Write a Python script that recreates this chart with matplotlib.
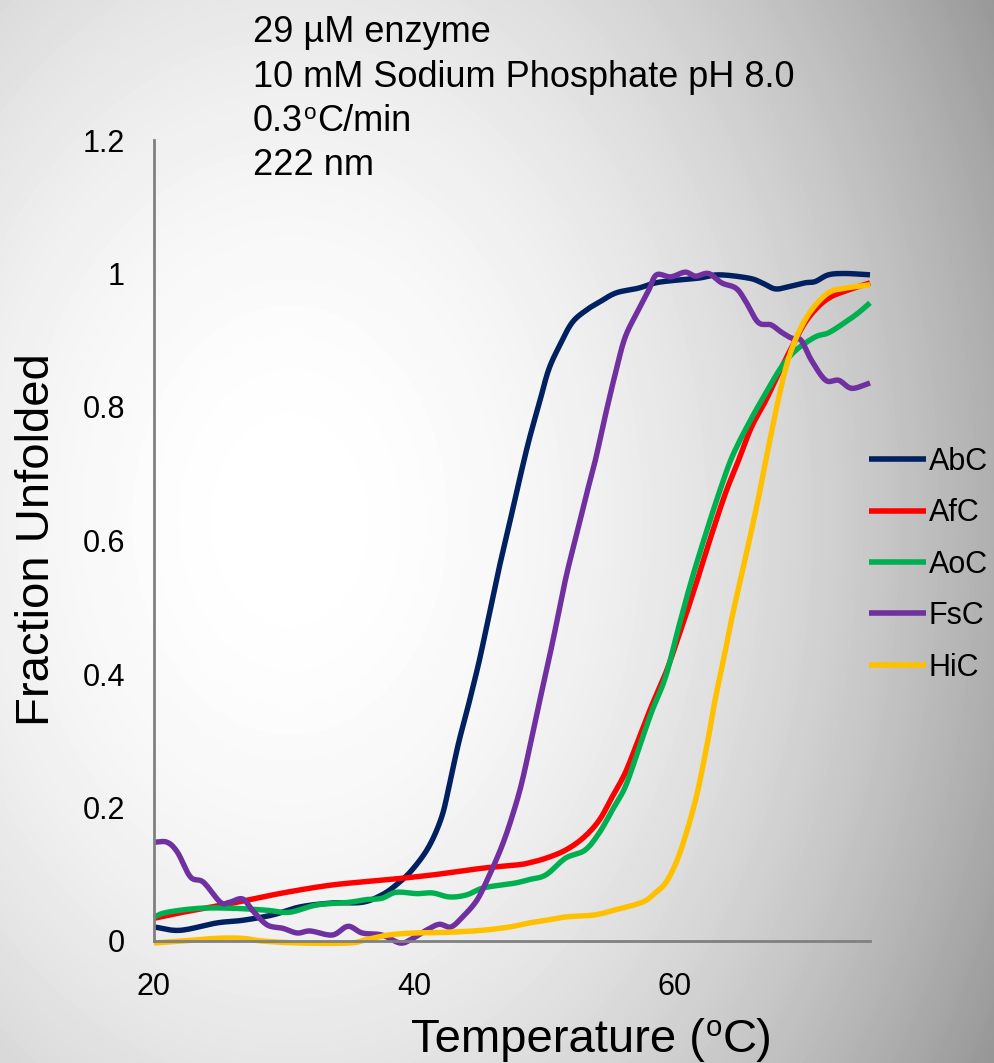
import numpy as np
import matplotlib
matplotlib.use("Agg")
import matplotlib.pyplot as plt

plt.rcParams['font.family'] = ['Liberation Sans', 'DejaVu Sans']

# ---- melting curves (temperature in degC, fraction unfolded) ----
abc_t = [20, 22, 24.8, 26.8, 29.1, 31.2, 33.7, 36.0, 37.5, 38.6, 39.8, 41.1, 42.1, 42.7,
         43.4, 44.2, 45.0, 45.7, 46.5, 47.3, 48.0, 48.8, 49.6, 50.3, 51.1, 52.1, 53.2,
         54.2, 55.5, 57.2, 58.8, 61.8, 63.4, 65.7, 66.7, 67.7, 68.7, 70.0, 70.8, 71.8,
         73.1, 75]
abc_f = [0.021, 0.016, 0.027, 0.031, 0.039, 0.051, 0.057, 0.058, 0.069, 0.084, 0.106,
         0.141, 0.186, 0.235, 0.297, 0.357, 0.421, 0.485, 0.558, 0.625, 0.685, 0.75, 0.806,
         0.855, 0.89, 0.926, 0.945, 0.957, 0.971, 0.978, 0.987, 0.993, 0.998, 0.993,
         0.986, 0.977, 0.98, 0.986, 0.988, 0.998, 1.0, 0.998]

afc_t = [20, 22.2, 26.1, 29.9, 33.7, 37.5, 41.4, 45.2, 47.9, 48.8, 50.1, 51.6, 53.0,
         54.2, 55.2, 56.2, 57.2, 58.2, 59.3, 60.1, 60.8, 61.8, 62.8, 63.9, 64.9, 65.9,
         67.0, 68.0, 69.0, 70.0, 71.0, 72.0, 73.3, 75]
afc_f = [0.034, 0.043, 0.057, 0.072, 0.084, 0.091, 0.099, 0.109, 0.114, 0.117, 0.124,
         0.136, 0.155, 0.181, 0.216, 0.252, 0.301, 0.351, 0.401, 0.445, 0.485, 0.545,
         0.607, 0.671, 0.72, 0.77, 0.81, 0.851, 0.89, 0.926, 0.95, 0.965, 0.975, 0.986]

aoc_t = [20, 21.0, 23.5, 26.1, 28.7, 30.4, 32.5, 35.0, 36.3, 37.5, 38.6, 40.2, 41.4,
         42.7, 44.0, 45.2, 46.7, 47.8, 48.8, 50.1, 51.6, 53.1, 54.2, 55.2, 56.2, 57.2,
         58.2, 59.3, 60.3, 61.3, 62.4, 63.4, 64.4, 65.7, 67.0, 68.2, 69.3, 70.8, 71.8,
         73.1, 74.1, 75]
aoc_f = [0.036, 0.043, 0.049, 0.049, 0.046, 0.043, 0.054, 0.058, 0.062, 0.064, 0.073,
         0.071, 0.072, 0.066, 0.069, 0.079, 0.084, 0.087, 0.092, 0.099, 0.124, 0.136,
         0.162, 0.196, 0.231, 0.286, 0.342, 0.396, 0.47, 0.541, 0.611, 0.671, 0.725,
         0.776, 0.821, 0.86, 0.885, 0.905, 0.911, 0.927, 0.941, 0.956]

fsc_t = [20, 21.0, 21.8, 22.8, 23.8, 25.1, 25.8, 26.8, 27.6, 28.7, 29.9, 31.0, 32.0,
         33.7, 34.9, 36.0, 37.5, 38.9, 39.8, 40.9, 41.9, 42.8, 43.7, 44.8, 45.7, 46.7,
         47.5, 48.3, 49.3, 50.6, 51.6, 52.6, 53.3, 53.9, 54.7, 55.5, 56.2, 57.2, 58.0,
         58.6, 59.7, 60.8, 61.6, 62.6, 63.6, 64.7, 65.4, 66.4, 67.4, 68.2, 69.0, 69.7,
         70.5, 71.6, 72.6, 73.6, 75]
fsc_f = [0.148, 0.148, 0.133, 0.096, 0.088, 0.058, 0.058, 0.063, 0.045, 0.024, 0.019,
         0.012, 0.015, 0.009, 0.022, 0.012, 0.009, -0.003, 0.003, 0.016, 0.025, 0.021,
         0.036, 0.061, 0.096, 0.141, 0.186, 0.241, 0.331, 0.446, 0.541, 0.62, 0.675,
         0.72, 0.79, 0.855, 0.905, 0.945, 0.975, 0.998, 0.995, 1.002, 0.996, 1.0, 0.986,
         0.978, 0.96, 0.927, 0.923, 0.912, 0.903, 0.9, 0.87, 0.84, 0.84, 0.828, 0.836]

hic_t = [20, 22.2, 24.8, 26.8, 28.3, 31.2, 35.0, 36.3, 38.0, 40.0, 42.5, 45.2, 47.3,
         48.8, 50.1, 51.6, 53.8, 55.3, 57.5, 58.5, 59.3, 60.1, 60.8, 61.6, 62.1, 62.6,
         63.1, 63.9, 64.4, 65.4, 66.4, 67.2, 68.0, 68.7, 69.5, 70.5, 71.8, 73.1, 75]
hic_f = [-0.003, 0.0, 0.004, 0.004, 0.0, -0.003, -0.003, 0.002, 0.009, 0.012, 0.013,
         0.016, 0.021, 0.027, 0.031, 0.036, 0.039, 0.046, 0.058, 0.072, 0.087, 0.117,
         0.156, 0.211, 0.256, 0.306, 0.361, 0.436, 0.485, 0.571, 0.661, 0.74, 0.815,
         0.87, 0.911, 0.945, 0.971, 0.978, 0.983]

series_names = ["AbC", "AfC", "AoC", "FsC", "HiC"]
series_colors = ["#002060", "#FF0000", "#00B050", "#7030A0", "#FFC000"]

x_ticks = [20, 40, 60]
y_ticks = [0, 0.2, 0.4, 0.6, 0.8, 1.0, 1.2]
y_tick_labels = ["0", "0.2", "0.4", "0.6", "0.8", "1", "1.2"]

# each condition line: (text before the degree "o", superscript, text after)
conditions = [("29 \u00b5M enzyme", "", ""),
              ("10 mM Sodium Phosphate pH 8.0", "", ""),
              ("0.3", "o", "C/min"),
              ("222 nm", "", "")]


def smooth_curve(x, y, steps=12):
    """Catmull-Rom path through the points (a 'smoothed line' rendering)."""
    p = np.column_stack([x, y]).astype(float)
    p = np.vstack([p[0] - (p[1] - p[0]), p, p[-1] + (p[-1] - p[-2])])
    out = []
    s = np.linspace(0, 1, steps, endpoint=False)[:, None]
    for i in range(1, len(p) - 2):
        p0, p1, p2, p3 = p[i - 1], p[i], p[i + 1], p[i + 2]
        seg = 0.5 * ((2 * p1) + (-p0 + p2) * s + (2 * p0 - 5 * p1 + 4 * p2 - p3) * s ** 2
                     + (-p0 + 3 * p1 - 3 * p2 + p3) * s ** 3)
        out.append(seg)
    out.append(p[-2][None, :])
    out = np.vstack(out)
    return out[:, 0], out[:, 1]


W, H = 995, 1063
fig = plt.figure(figsize=(W / 100, H / 100), dpi=100)
fig.patch.set_facecolor("white")

# grey vignette background
bg = fig.add_axes([0, 0, 1, 1], zorder=-5)
yy, xx = np.mgrid[0:H, 0:W]
shade = 1.0 - 6.3e-7 * (xx - 290.0) ** 2 - 3.4e-7 * (yy - 520.0) ** 2
shade = np.clip(shade, 0, 1)
bg.imshow(shade, cmap="gray", vmin=0, vmax=1, aspect="auto",
          extent=[0, 1, 0, 1], origin="upper", interpolation="bilinear")
bg.set_axis_off()

ax = fig.add_axes([154 / W, 1 - 941 / H, (870 - 154) / W, (941 - 140) / H])
ax.set_facecolor("none")

for t, f, name, col in zip([abc_t, afc_t, aoc_t, fsc_t, hic_t],
                           [abc_f, afc_f, aoc_f, fsc_f, hic_f],
                           series_names, series_colors):
    sx, sy = smooth_curve(t, f)
    ax.plot(sx, sy, color=col, lw=3.9, label=name, clip_on=False,
            solid_capstyle="butt", solid_joinstyle="round")

ax.set_xlim(20, 75)
ax.set_ylim(0, 1.2)
ax.set_xticks(x_ticks)
ax.set_xticklabels([str(v) for v in x_ticks])
ax.set_yticks(y_ticks)
ax.set_yticklabels(y_tick_labels)
ax.tick_params(axis="both", length=0, labelsize=22, colors="black")
ax.tick_params(axis="x", pad=22)
ax.tick_params(axis="y", pad=21)
for s in ["top", "right"]:
    ax.spines[s].set_visible(False)
for s in ["left", "bottom"]:
    ax.spines[s].set_color("#808080")
    ax.spines[s].set_linewidth(2)

leg = ax.legend(loc="upper left", bbox_to_anchor=(869 / W, 1 - 447 / H),
                bbox_transform=fig.transFigure, frameon=False, fontsize=22,
                handlelength=1.85, handletextpad=0.1, labelspacing=0.70,
                borderpad=0, borderaxespad=0)
for ln in leg.get_lines():
    ln.set_linewidth(4)

fig.text(37 / W, 1 - 540 / H, "Fraction Unfolded", rotation=90, fontsize=34,
         ha="center", va="center")

renderer = fig.canvas.get_renderer()


def degree_text(x_px, base_px, pre, sup, post, size):
    """Write pre + small raised 'o' + post, left-aligned at a baseline in pixels."""
    t1 = fig.text(x_px / W, 1 - base_px / H, pre, fontsize=size, ha="left", va="baseline")
    if not sup:
        return
    x_end = t1.get_window_extent(renderer).x1
    raise_px = 0.34 * size * 100 / 72
    t2 = fig.text(x_end / W + 0.001, (H - base_px + raise_px) / H, sup,
                  fontsize=size * 0.62, ha="left", va="baseline")
    x_end2 = t2.get_window_extent(renderer).x1
    fig.text(x_end2 / W + 0.0005, 1 - base_px / H, post, fontsize=size,
             ha="left", va="baseline")


degree_text(411, 1052, "Temperature (", "o", "C)", 34)

baselines = [42, 87, 131, 175]
for (pre, sup, post), yb in zip(conditions, baselines):
    degree_text(253, yb, pre, sup, post, 26)

fig.savefig("out.png", dpi=100)
